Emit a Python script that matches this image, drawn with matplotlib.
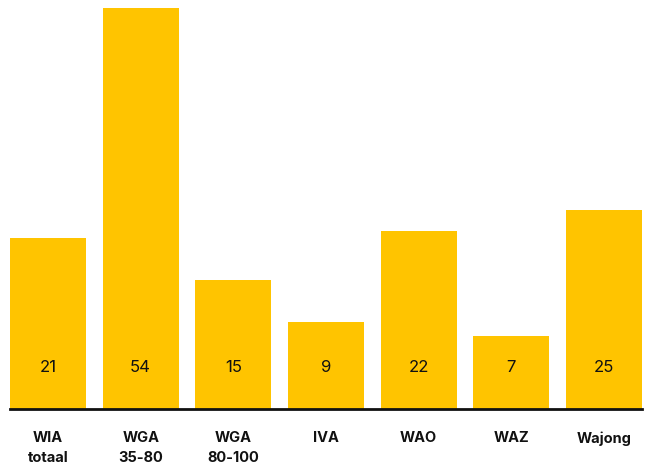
import matplotlib.pyplot as plt

# Data
categories = ["WIA\ntotaal", "WGA\n35-80", "WGA\n80-100", "IVA", "WAO", "WAZ", "Wajong"]
values = [21, 54, 15, 9, 22, 7, 25]
y_floor = -3.5  # bars start below zero in the original

plt.rcParams['font.family'] = ['Inter', 'DejaVu Sans']

fig = plt.figure(figsize=(6.49, 4.70), dpi=100)
ax = fig.add_axes([10 / 649, 61 / 470, 632 / 649, 401 / 470])

x = range(len(categories))
ax.bar(x, [v - y_floor for v in values], bottom=y_floor, width=0.82,
       color="#FFC400", edgecolor="none")

for i, v in enumerate(values):
    ax.annotate(str(v), xy=(i, y_floor), xytext=(0, 30), textcoords="offset points",
                ha="center", va="center", fontsize=12, color="#111111")

ax.set_xlim(-0.41, len(categories) - 1 + 0.41)
ax.set_ylim(y_floor, 54)

ax.set_xticks(list(x))
ax.set_xticklabels(categories, fontsize=10.5, fontweight="bold", color="#111111",
                   linespacing=1.55)
ax.tick_params(axis="x", length=0, pad=16)
ax.set_yticks([])

for s in ["top", "right", "left"]:
    ax.spines[s].set_visible(False)
ax.spines["bottom"].set_linewidth(2)
ax.spines["bottom"].set_color("#111111")

fig.savefig("out.png", dpi=100)
